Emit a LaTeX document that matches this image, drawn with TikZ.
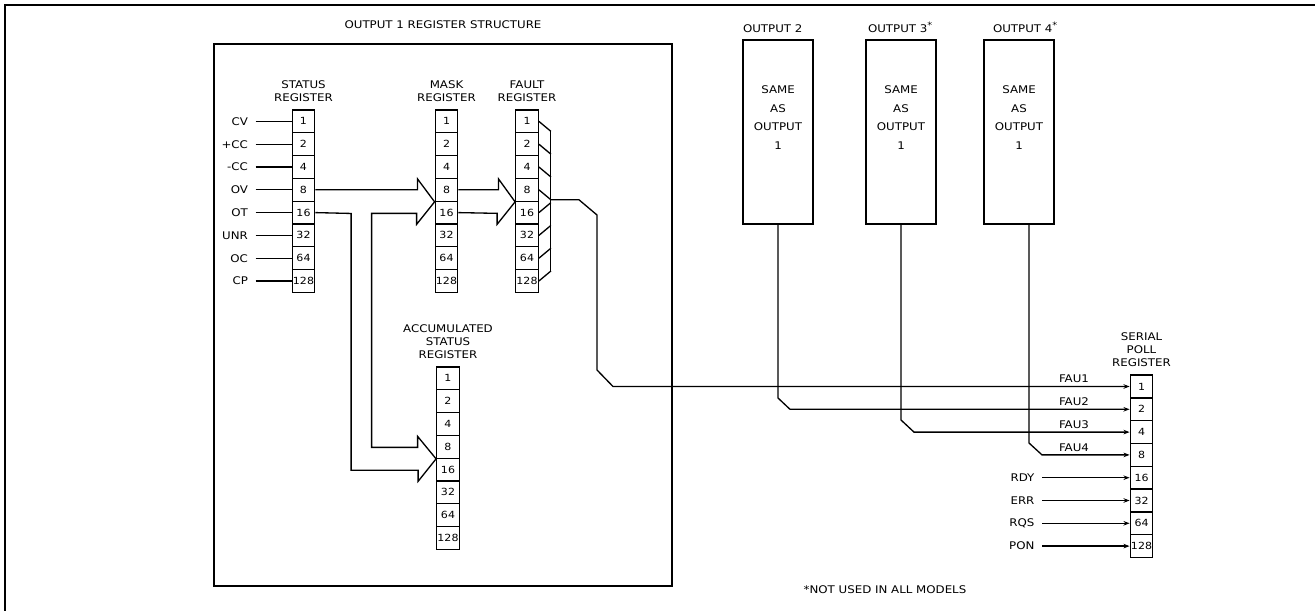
\documentclass[tikz,border=0pt]{standalone}
\usepackage{fontspec}
\setmainfont{DejaVu Sans}[FakeStretch=1.12]
\usepackage{tikz}
\usetikzlibrary{arrows.meta,positioning,calc}

\begin{document}
\begin{tikzpicture}[
    x=0.02cm, y=-0.02cm,
    line width=0.75pt,
    every node/.style={font=\fontsize{6}{7.4}\selectfont, inner sep=0pt, align=center},
    cell/.style={draw, minimum width=0.45cm, minimum height=0.456cm, font=\fontsize{5.6}{6}\selectfont},
    lbl/.style={inner xsep=4pt},
    frame/.style={draw, minimum width=9.16cm, minimum height=10.84cm},
    outbox/.style={draw, minimum width=1.4cm, minimum height=3.68cm},
    same/.style={font=\fontsize{6}{10.5}\selectfont},
    arr/.style={-{Stealth[length=3.5pt, width=2.6pt]}},
]
\useasboundingbox (0,0) rectangle (1315,611);
\draw (1315,5) -- (5,5) -- (5,611);

% Output 1 frame
\node (title) at (443,25) {OUTPUT 1 REGISTER STRUCTURE};
\node (out1) [frame] at (443,315) {};

% Registers
\foreach \r/\x/\y in {st/303.5/121.4, mk/446.5/121.4, ft/527/121.4, ac/448/378.4, sp/1141.5/386.5}
  \foreach \b [count=\i from 0] in {1,2,4,8,16,32,64,128}
    \node (\r\b) [cell] at (\x,\y+22.8*\i) {\b};

\node (stl) [above=0.15cm of st1] {STATUS\\REGISTER};
\node (mkl) [above=0.15cm of mk1] {MASK\\REGISTER};
\node (ftl) [above=0.15cm of ft1] {FAULT\\REGISTER};
\node (acl) [above=0.15cm of ac1] {ACCUMULATED\\STATUS\\REGISTER};
\node (spl) [above=0.15cm of sp1] {SERIAL\\POLL\\REGISTER};

% Status inputs
\foreach \t/\b in {CV/1, +CC/2, -CC/4, OV/8, OT/16, UNR/32, OC/64, CP/128} {
  \node (in\b) [lbl, left=0.72cm of st\b] {\t};
  \draw (in\b) -- (st\b);
}

% Hollow arrows to mask and accumulated registers
\draw (st8.east) -- ++(102,0) -- ++(0,-11) -- (mk8.south west) -- ++(-18,22.5) -- ++(0,-11)
  -- ++(-45,0) -- ++(0,234) -- ++(46,0) -- ++(0,-11) -- (ac8.south west) -- ++(-18,22.5)
  -- ++(0,-11.1) -- ++(-67,0) -- ++(0,-256.8) -- (st16.east);
\draw (mk8.east) -- ++(40,0) -- ++(0,-11) -- (ft8.south west) -- ++(-18,22.5) -- ++(0,-11) -- (mk16.east);

% Fault summary bus
\coordinate (bustop) at (550.25,131.4);
\coordinate (busbot) at (550.25,271);
\coordinate (ftout) at (550.25,199.8);
\foreach \b in {1,2,4,8} \draw (ft\b.east) -- ++(12,10);
\foreach \b in {16,32,64,128} \draw (ft\b.east) -- ++(12,-10);
\draw (bustop) -- (busbot);

% Outputs 2-4
\node (out2) [outbox] at (778,132) {};
\node (out3) [outbox] at (901,132) {};
\node (out4) [outbox] at (1019,132) {};
\foreach \n in {2,3,4} \node (same\n) [same] at ($(out\n)+(0,-14.5)$) {SAME\\AS\\OUTPUT\\1};
\node (hd2) [above right=0.12cm and 0cm of out2.north west] {OUTPUT 2};
\node (hd3) [above right=0.12cm and 0.04cm of out3.north west] {OUTPUT 3\textsuperscript{*}};
\node (hd4) [above right=0.12cm and 0.18cm of out4.north west] {OUTPUT 4\textsuperscript{*}};

% Lines to serial poll register
\draw[arr] (ftout) -- (579,199.8) -- (597,215) -- (597,370) -- (613,386.5) -- (sp1.west);
\draw[arr] (out2.south) -- (778,398) -- (790,409.3) -- (sp2.west);
\draw[arr] (out3.south) -- (901,420) -- (914,432.1) -- (sp4.west);
\draw[arr] ($(out4.south)+(10,0)$) -- (1029,443) -- (1042,454.9) -- (sp8.west);
\foreach \b/\t in {1/FAU1, 2/FAU2, 4/FAU3, 8/FAU4}
  \node (fau\b) [above left=0.06cm and 0.8cm of sp\b.west] {\t};

\foreach \t/\b in {RDY/16, ERR/32, RQS/64, PON/128} {
  \node (in\b) [lbl, left=1.75cm of sp\b] {\t};
  \draw[arr] (in\b) -- (sp\b);
}

\node (note) at (885,590) {*NOT USED IN ALL MODELS};
\end{tikzpicture}
\end{document}
